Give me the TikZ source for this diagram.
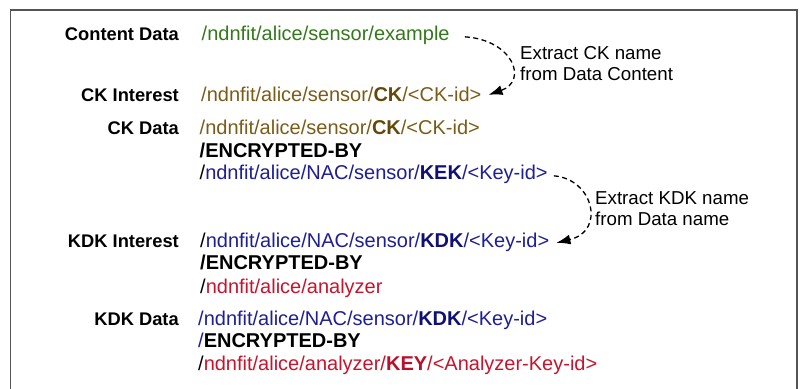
\documentclass[tikz,border=0pt]{standalone}
\usepackage{fontspec}
\setmainfont{Liberation Sans}
\usetikzlibrary{arrows.meta}
\definecolor{cgreen}{RGB}{52,120,28}
\definecolor{cbrown}{RGB}{122,92,24}
\definecolor{cbrownb}{RGB}{100,72,10}
\definecolor{cblue}{RGB}{30,30,150}
\definecolor{cblueb}{RGB}{15,15,120}
\definecolor{cred}{RGB}{198,20,45}
\definecolor{credb}{RGB}{185,15,40}
\definecolor{framec}{RGB}{85,85,85}
\newcommand{\ckb}{\textbf{\color{cbrownb}CK}}
\begin{document}
\begin{tikzpicture}[x=1pt,y=-1pt,
  lbl/.style={anchor=base east,inner sep=0pt,font=\fontsize{18.3}{20}\selectfont\bfseries},
  pth/.style={anchor=base west,inner sep=0pt,font=\fontsize{20}{22}\selectfont},
  note/.style={anchor=base west,inner sep=0pt,font=\fontsize{18.7}{21}\selectfont,align=left},
  link/.style={dash pattern=on 5pt off 3.5pt,line width=1.3pt,arrows={-Latex[length=14pt,width=10pt]}}]
\useasboundingbox (0,0) rectangle (800,388);
\draw[framec,line width=1.3pt] (10.5,392) -- (10.5,10) -- (797,10) -- (797,392);

% labels
\node[lbl] (lcd) at (179,40) {Content Data};
\node[lbl] (lci) at (179,101) {CK Interest};
\node[lbl] (lck) at (179,134) {CK Data};
\node[lbl] (lki) at (179,247) {KDK Interest};
\node[lbl] (lkd) at (179,325) {KDK Data};

% content data
\node[pth,text=cgreen] (cd) at (201.5,40) {/ndnfit/alice/sensor/example};
% CK interest
\node[pth,text=cbrown] (ci) at (201,101) {/ndnfit/alice/sensor/\ckb/<CK-id>};
% CK data
\node[pth,text=cbrown] (ck1) at (199.5,134) {/ndnfit/alice/sensor/\ckb/<CK-id>};
\node[pth] (ck2) at (199.5,157) {\textbf{/ENCRYPTED-BY}};
\node[pth] (ck3) at (199.5,179) {/\textcolor{cblue}{ndnfit/alice/NAC/sensor/\textbf{\color{cblueb}KEK}/<Key-id>}};
% KDK interest
\node[pth] (ki1) at (200,247) {/\textcolor{cblue}{ndnfit/alice/NAC/sensor/\textbf{\color{cblueb}KDK}/<Key-id>}};
\node[pth] (ki2) at (200,269) {\textbf{/ENCRYPTED-BY}};
\node[pth] (ki3) at (200,293) {/\textcolor{cred}{ndnfit/alice/analyzer}};
% KDK data
\node[pth,text=cblue] (kd1) at (198,325) {/ndnfit/alice/NAC/sensor/\textbf{\color{cblueb}KDK}/<Key-id>};
\node[pth] (kd2) at (198,347) {\textcolor{cblue}{/}\textbf{ENCRYPTED-BY}};
\node[pth] (kd3) at (198,370) {/\textcolor{cred}{ndnfit/alice/analyzer/\textbf{\color{credb}KEY}/<Analyzer-Key-id>}};

% notes
\node[note] (n1a) at (520,59) {Extract CK name};
\node[note] (n1b) at (520,80) {from Data Content};
\node[note] (n2a) at (595,204) {Extract KDK name};
\node[note] (n2b) at (595,225.5) {from Data name};

% connectors
\coordinate (s1) at ([xshift=15pt,yshift=-2pt]cd.east);
\coordinate (e1) at ([xshift=7pt,yshift=-1pt]ci.east);
\draw[link] (s1) .. controls ([xshift=48pt,yshift=-3pt]s1) and ([xshift=40pt,yshift=14pt]e1) .. (e1);
\coordinate (s2) at ([xshift=6pt,yshift=-2pt]ck3.east);
\coordinate (e2) at ([xshift=7pt,yshift=-1pt]ki1.east);
\draw[link] (s2) .. controls ([xshift=39pt,yshift=-3pt]s2) and ([xshift=50pt,yshift=12pt]e2) .. (e2);
\end{tikzpicture}
\end{document}
